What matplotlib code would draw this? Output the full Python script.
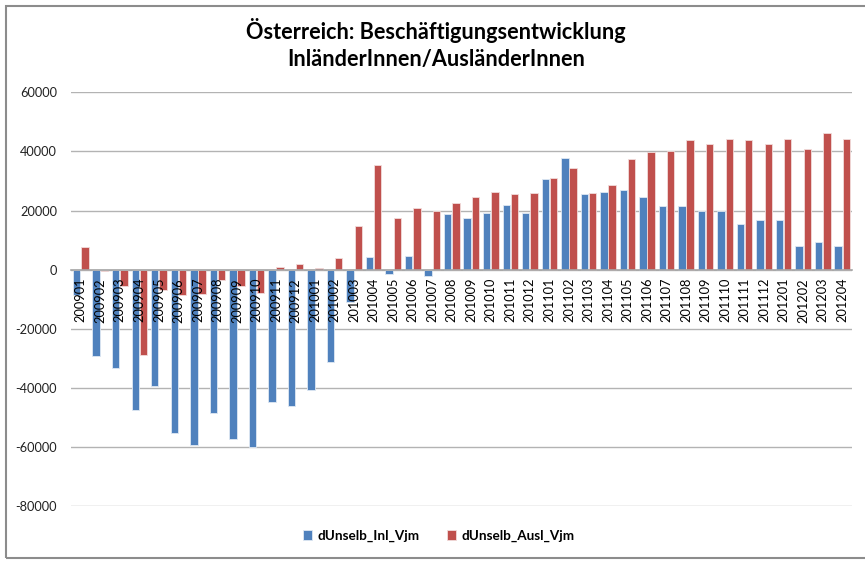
import matplotlib.pyplot as plt
from matplotlib.patches import Rectangle
import numpy as np

# monthly change vs. same month of the previous year
months = ['200901', '200902', '200903', '200904', '200905', '200906', '200907',
          '200908', '200909', '200910', '200911', '200912', '201001', '201002',
          '201003', '201004', '201005', '201006', '201007', '201008', '201009',
          '201010', '201011', '201012', '201101', '201102', '201103', '201104',
          '201105', '201106', '201107', '201108', '201109', '201110', '201111',
          '201112', '201201', '201202', '201203', '201204']
inl = [-8500, -29200, -33300, -47500, -39300, -55200, -59500, -48600, -57300, -59900,
       -44900, -46000, -40800, -31300, -11100, 4400, -1500, 4700, -2000, 18800,
       17400, 19000, 21900, 19200, 30800, 37900, 25700, 26300, 27100, 24700,
       21600, 21600, 19700, 19700, 15600, 16800, 16800, 8100, 9500, 8100]
ausl = [7800, -600, -5400, -28800, -7000, -8500, -8100, -3600, -5600, -7900,
        900, 1900, 700, 4000, 14600, 35500, 17400, 21000, 20000, 22600,
        24500, 26300, 25700, 26100, 30900, 34500, 25900, 28500, 37400, 39800,
        40300, 43900, 42400, 44100, 43700, 42400, 44300, 40900, 46400, 44100]
yticks = [-80000, -60000, -40000, -20000, 0, 20000, 40000, 60000]

plt.rcParams['font.family'] = ['Lato', 'DejaVu Sans']

fig = plt.figure(figsize=(8.65, 5.63), dpi=100)
ax = fig.add_axes([0.0821, 0.1012, 0.9029, 0.7348])

x = np.arange(len(months))
ax.bar(x - 0.21, inl, width=0.38, color='#4F81BD', edgecolor='#dfe8f3',
       linewidth=0.6, label='dUnselb_Inl_Vjm', zorder=2)
ax.bar(x + 0.21, ausl, width=0.38, color='#C0504D', edgecolor='#f1dcdb',
       linewidth=0.6, label='dUnselb_Ausl_Vjm', zorder=2)

ax.set_xlim(-0.5, len(months) - 0.5)
ax.set_ylim(-80000, 60000)
ax.set_yticks(yticks)
ax.set_yticklabels([str(v) for v in yticks])
# gridlines behind the bars, axis (and month labels) on top
for v in yticks:
    ax.axhline(v, color='#b3b3b3', linewidth=1, zorder=0)
ax.set_axisbelow(False)

for s in ['left', 'right', 'top']:
    ax.spines[s].set_visible(False)
ax.spines['bottom'].set_position(('data', 0))
ax.spines['bottom'].set_color('#a6a6a6')
ax.spines['bottom'].set_linewidth(1.2)

ax.set_xticks(x)
ax.set_xticklabels(months, rotation=90, va='top', ha='center')
ax.tick_params(axis='x', length=0, pad=6, labelsize=9.2)
ax.tick_params(axis='y', length=0, pad=10, labelsize=9.2, labelcolor='#222222')

fig.text(0.504, 1 - 44 / 563,
         'Österreich: Beschäftigungsentwicklung\nInländerInnen/AusländerInnen',
         ha='center', va='center', fontsize=15.6, fontweight='bold',
         linespacing=1.35)

fig.legend(loc='center', bbox_to_anchor=(0.507, 1 - 536 / 563), ncol=2,
           frameon=False, prop={'weight': 'bold', 'size': 9.7},
           handlelength=0.7, handleheight=0.7, handletextpad=0.4,
           columnspacing=2.0)

# outer chart frame, right edge runs off the image
fig.add_artist(Rectangle((6 / 865, 1 - 557.5 / 563), 1.1, (557.5 - 5.5) / 563,
                         transform=fig.transFigure, fill=False,
                         edgecolor='#8c8c8c', linewidth=1.5))

plt.savefig('out.png', dpi=100)
